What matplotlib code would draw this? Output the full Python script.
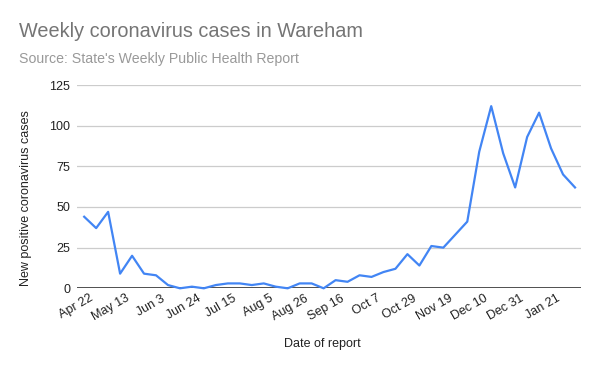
import matplotlib
matplotlib.use('Agg')
import matplotlib.pyplot as plt
import matplotlib.transforms as mtransforms

plt.rcParams['font.family'] = ['Liberation Sans', 'DejaVu Sans']

# weekly report dates (only every third is labelled)
dates = ['Apr 22', 'Apr 29', 'May 6', 'May 13', 'May 20', 'May 27', 'Jun 3',
         'Jun 10', 'Jun 17', 'Jun 24', 'Jul 1', 'Jul 8', 'Jul 15', 'Jul 22',
         'Jul 29', 'Aug 5', 'Aug 12', 'Aug 19', 'Aug 26', 'Sep 2', 'Sep 9',
         'Sep 16', 'Sep 23', 'Sep 30', 'Oct 7', 'Oct 15', 'Oct 22', 'Oct 29',
         'Nov 5', 'Nov 12', 'Nov 19', 'Nov 26', 'Dec 3', 'Dec 10', 'Dec 17',
         'Dec 24', 'Dec 31', 'Jan 7', 'Jan 14', 'Jan 21', 'Jan 28', 'Feb 4']
cases = [44, 37, 47, 9, 20, 9, 8, 2, 0, 1, 0, 2, 3, 3, 2, 3, 1, 0, 3, 3, 0,
         5, 4, 8, 7, 10, 12, 21, 14, 26, 25, 33, 41, 84, 112, 83, 62, 93, 108,
         86, 70, 62]
y_ticks = [0, 25, 50, 75, 100, 125]

fig = plt.figure(figsize=(6, 3.71), dpi=100)
ax = fig.add_axes([77/600, 82.7/371, 504/600, 203.3/371])

x = list(range(len(cases)))
ax.plot(x, cases, color='#4285F4', linewidth=1.6, clip_on=False, zorder=3)

ax.set_ylim(0, 125)
ax.set_xlim(-0.6, len(cases) - 0.5)
ax.set_yticks(y_ticks)
ax.set_yticklabels([str(v) for v in y_ticks], fontsize=9, color='#222222')
ax.grid(axis='y', color='#cccccc', linewidth=0.9)
ax.axhline(0, color='#333333', linewidth=1.2, zorder=2)
for s in ax.spines.values():
    s.set_visible(False)
ax.tick_params(axis='y', length=0, pad=5)
ax.tick_params(axis='x', length=0, pad=3)

tick_idx = list(range(0, len(dates), 3))
ax.set_xticks(tick_idx)
ax.set_xticklabels([dates[i] for i in tick_idx], rotation=30, ha='right',
                   rotation_mode='anchor', fontsize=9, color='#222222')
shift = mtransforms.ScaledTranslation(5/100, 0, fig.dpi_scale_trans)
for lbl in ax.get_xticklabels():
    lbl.set_transform(lbl.get_transform() + shift)

fig.text(19/600, 1 - 37/371, 'Weekly coronavirus cases in Wareham',
         fontsize=14.3, color='#757575', ha='left', va='baseline')
fig.text(19/600, 1 - 63/371, "Source: State's Weekly Public Health Report",
         fontsize=10.2, color='#999999', ha='left', va='baseline')
fig.text(26/600, 1 - 198/371, 'New positive coronavirus cases', rotation=90,
         fontsize=9, color='#222222', ha='center', va='center')
fig.text(322/600, 1 - 344/371, 'Date of report', fontsize=9,
         color='#222222', ha='center', va='center')

fig.savefig('out.png', dpi=100, facecolor='white')
